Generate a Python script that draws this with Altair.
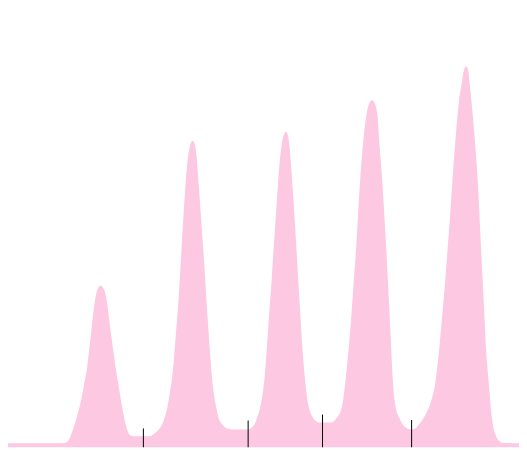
import altair as alt
import pandas as pd

# Profile: (position, top edge in picture pixels) per point
pts = [
    (1, 445), (57, 445), (60.3, 444.5), (63.5, 441), (66.7, 433), (71.7, 417), (76, 400), (79.3, 383), (82, 367),
    (84, 350), (86, 333), (87.7, 317), (90, 300), (92.5, 290), (95.5, 286), (98.5, 289), (101.7, 300), (104, 317),
    (106, 333), (108.3, 350), (110.7, 367), (113.3, 383), (115.8, 398), (118.3, 412), (120.5, 423), (122.7, 431),
    (125.5, 436.5), (130, 438), (146, 438),
    (150, 435.5), (155, 431), (158, 427), (160.7, 420), (163.5, 410), (166, 396), (168.5, 380), (170.5, 360),
    (172.5, 335), (174.5, 310), (176.5, 280), (178.5, 245), (180.5, 212), (182.5, 182), (184.5, 160), (186.5, 147),
    (189.3, 140), (192, 144), (193.5, 155), (196, 187), (198.3, 220), (200.7, 253), (202.9, 287), (205, 320),
    (207.3, 353), (210, 385), (213, 405), (216, 419), (220, 426), (225, 430), (232, 431), (247, 431),
    (250, 429), (253, 425.5), (255.5, 419), (258.3, 410), (261, 396), (263.3, 377), (265.7, 345), (268, 312),
    (270.5, 278), (272.7, 243), (275, 210), (277.3, 177), (280, 148), (282.5, 135), (285, 131), (287, 135),
    (288.5, 145), (291, 177), (293.3, 210), (295.3, 243), (297.3, 277), (299.3, 310), (301.3, 343), (304, 377),
    (307, 402), (310, 414), (313, 420), (316, 423), (319, 424), (332, 424),
    (335, 421.5), (338, 418), (340.7, 413), (343.5, 400), (346, 380), (348, 360), (349.3, 347), (352, 313),
    (354.3, 280), (356.7, 247), (358.7, 213), (360.7, 180), (363.3, 147), (366, 122), (368.5, 107), (372.7, 99),
    (375.5, 102), (378.3, 113), (380.7, 147), (383.3, 180), (385.3, 213), (387.3, 247), (389, 280), (390.7, 313),
    (392.3, 347), (394, 380), (397.3, 410), (401, 420), (405, 427), (409, 430), (413, 431),
    (417, 430), (420, 427), (427, 417), (433, 403), (437.7, 383), (441.5, 350), (444.5, 317), (447.5, 283),
    (450, 250), (452.5, 217), (454.8, 183), (457.2, 150), (460, 117), (462, 97), (464.3, 83), (466.5, 70), (469, 65),
    (471, 69), (472.7, 83), (476, 117), (478.7, 150), (481, 183), (482.7, 217), (484.3, 250), (486, 283),
    (487.7, 317), (489.3, 350), (492, 383), (495, 417), (497, 430), (499.3, 437), (502, 442), (506, 444.5), (523, 445),
]
xs = [p[0] for p in pts]
heights = [449 - p[1] for p in pts]

# Marker ticks at the valleys
tick_x = [139.3, 246.3, 322.3, 413.3]
tick_h = [19, 27, 33, 27.5]

area_df = pd.DataFrame({"x": xs, "h": heights})
tick_df = pd.DataFrame({"x": tick_x, "h": tick_h, "base": [0] * len(tick_x)})

xscale = alt.Scale(domain=[1, 523], nice=False, zero=False)
yscale = alt.Scale(domain=[0, 441], nice=False, zero=True)

area = alt.Chart(area_df).mark_area(color="#FCC8E2", interpolate="monotone", opacity=1).encode(
    x=alt.X("x:Q", scale=xscale, axis=None),
    y=alt.Y("h:Q", scale=yscale, axis=None),
)

ticks = alt.Chart(tick_df).mark_rule(color="black", strokeWidth=1).encode(
    x=alt.X("x:Q", scale=xscale, axis=None),
    y=alt.Y("base:Q", scale=yscale, axis=None),
    y2=alt.Y2("h:Q"),
)

chart = alt.layer(area, ticks).properties(
    width=515, height=441, padding=0,
    autosize=alt.AutoSizeParams(type="none"),
).configure_view(stroke=None)

chart.save("out.html", embed_options={"renderer": "svg", "actions": False})
